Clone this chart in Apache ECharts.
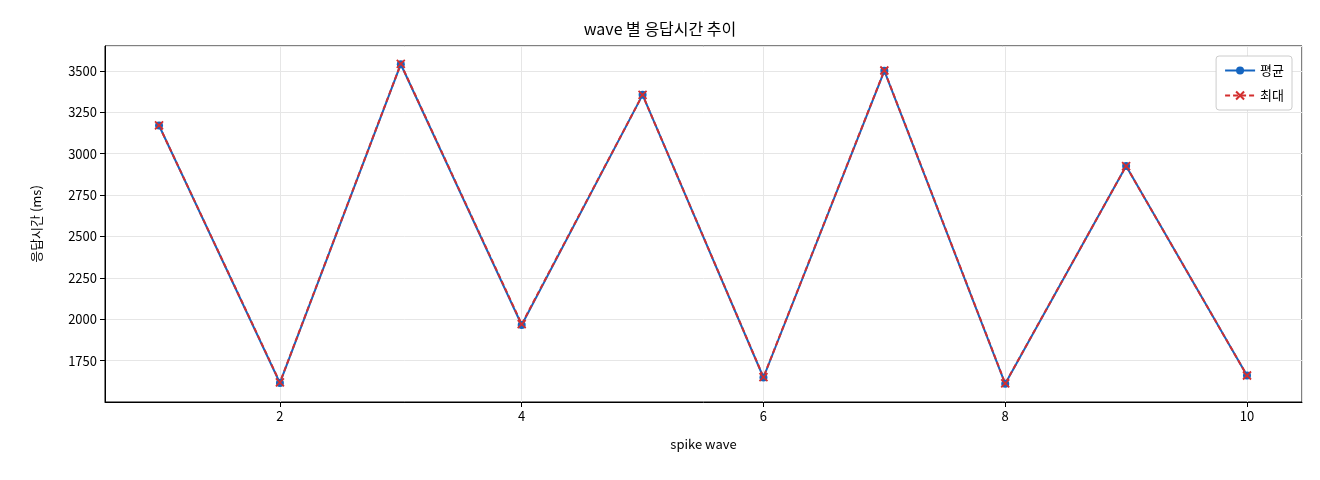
<!DOCTYPE html>
<html><head><meta charset="utf-8">
<script src="https://cdn.jsdelivr.net/npm/echarts@6/dist/echarts.min.js"></script>
<style>html,body{margin:0;padding:0;background:#fff}#c{width:1320px;height:480px}</style>
</head><body><div id="c"></div>
<script>
const waves = [1,2,3,4,5,6,7,8,9,10];
const avgValues = [3170,1615,3540,1965,3355,1648,3500,1610,2925,1660];
const maxValues = [3170,1618,3542,1970,3355,1650,3502,1612,2925,1660];
const F = '"Noto Sans CJK KR", "DejaVu Sans", sans-serif';
const xPath = 'path://M0,0L10,10M10,0L0,10';
const chart = echarts.init(document.getElementById('c'));
chart.setOption({
  animation:false,
  textStyle:{fontFamily:F},
  title:{text:'wave 별 응답시간 추이',left:'center',top:16,textStyle:{fontSize:16,fontWeight:'normal',color:'#000',fontFamily:F}},
  grid:{left:105,right:18,top:46,bottom:78,show:true,borderColor:'#000',borderWidth:1,backgroundColor:'transparent'},
  legend:{right:28,top:56,orient:'vertical',itemWidth:30,itemHeight:10,itemGap:12,
    backgroundColor:'#fff',borderColor:'#ccc',borderWidth:1,borderRadius:3,padding:[8,8,8,8],
    textStyle:{fontSize:13,color:'#000',fontFamily:F}},
  xAxis:{type:'value',min:0.553,max:10.455,splitNumber:5,name:'spike wave',nameLocation:'middle',nameGap:36,
    nameTextStyle:{fontSize:13,color:'#000',fontFamily:F},
    axisLine:{lineStyle:{color:'#000'}},axisTick:{show:true,lineStyle:{color:'#000'}},
    axisLabel:{color:'#000',fontSize:13,showMinLabel:false,showMaxLabel:false,formatter:v=>Number.isInteger(v)?String(v):''},
    splitLine:{show:true,lineStyle:{color:'#e6e6e6'}}},
  yAxis:{type:'value',min:1500,max:3650,interval:250,name:'응답시간 (ms)',nameLocation:'middle',nameGap:62,
    nameTextStyle:{fontSize:13,color:'#000',fontFamily:F},
    axisLine:{show:true,lineStyle:{color:'#000'}},axisTick:{show:true,lineStyle:{color:'#000'}},
    axisLabel:{color:'#000',fontSize:13,showMinLabel:false,showMaxLabel:false,formatter:v=>String(v)},
    splitLine:{show:true,lineStyle:{color:'#e6e6e6'}}},
  series:[
    {name:'평균',type:'line',data:waves.map((w,i)=>[w,avgValues[i]]),symbol:'circle',symbolSize:8,
      lineStyle:{color:'#1565c0',width:2},itemStyle:{color:'#1565c0'}},
    {name:'최대',type:'line',data:waves.map((w,i)=>[w,maxValues[i]]),symbol:xPath,symbolSize:8,
      lineStyle:{color:'#d32f2f',width:2,type:[5,3]},itemStyle:{color:'none',borderColor:'#d32f2f',borderWidth:1.8}}
  ]
});
</script></body></html>
